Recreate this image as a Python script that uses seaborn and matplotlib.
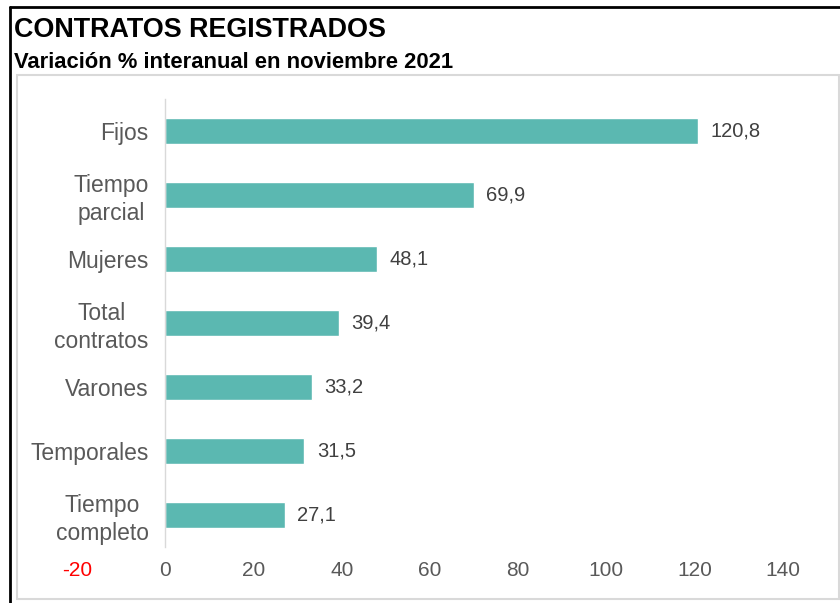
import seaborn as sns
import matplotlib.pyplot as plt
import pandas as pd

categories = ["Fijos", "Tiempo\nparcial", "Mujeres", "Total\ncontratos",
              "Varones", "Temporales", "Tiempo\ncompleto"]
values = [120.8, 69.9, 48.1, 39.4, 33.2, 31.5, 27.1]
x_ticks = [-20, 0, 20, 40, 60, 80, 100, 120, 140]

sns.set_style("white")
plt.rcParams['font.family'] = ['Liberation Sans', 'DejaVu Sans']

df = pd.DataFrame({"categoria": categories, "valor": values})

fig = plt.figure(figsize=(8.4, 6.03), dpi=100)
ax = fig.add_axes([0.0917, 0.093, 0.8403, 0.743])

sns.barplot(
    data=df,
    x="valor",
    y="categoria",
    color="#5BB8B1",
    saturation=1,
    width=0.4,
    ax=ax
)

for s in ["top", "right", "bottom"]:
    ax.spines[s].set_visible(False)
ax.spines["left"].set_position(("data", 0))
ax.spines["left"].set_color("#D9D9D9")
ax.spines["left"].set_linewidth(1)
ax.set_xlabel("")
ax.set_ylabel("")

for i, v in enumerate(values):
    ax.annotate(f"{v:.1f}".replace(".", ","), (v, i), xytext=(9, 0),
                textcoords="offset points", va="center", ha="left",
                fontsize=14.5, color="#404040")

ax.set_xlim(-20, 140)
ax.set_ylim(6.5, -0.5)
ax.set_xticks(x_ticks)
ax.set_xticklabels([str(t) for t in x_ticks])
ax.tick_params(axis="x", length=0, pad=10, labelsize=15)
ax.tick_params(axis="y", length=0, pad=12, labelsize=16.5, labelcolor="#595959")
ax.set_yticks(range(len(categories)))
ax.set_yticklabels(categories)
for lbl, t in zip(ax.get_xticklabels(), x_ticks):
    lbl.set_color("red" if t < 0 else "#595959")
for lbl in ax.get_yticklabels():
    lbl.set_multialignment("center")
    lbl.set_linespacing(1.25)

# marcos
fig.add_artist(plt.Rectangle((17 / 840, 1 - 599 / 603), 822 / 840, 524 / 603,
                             transform=fig.transFigure, fill=False,
                             edgecolor="#D9D9D9", linewidth=1.5))
fig.add_artist(plt.Line2D([10 / 840, 10 / 840], [0, 1 - 7 / 603],
                          transform=fig.transFigure, color="black", linewidth=2))
fig.add_artist(plt.Line2D([10 / 840, 1], [1 - 7 / 603, 1 - 7 / 603],
                          transform=fig.transFigure, color="black", linewidth=2))

fig.text(14 / 840, 1 - 30 / 603, "CONTRATOS REGISTRADOS", fontsize=19.4,
         fontweight="bold", va="center", ha="left", color="black")
fig.text(14 / 840, 1 - 63 / 603, "Variación % interanual en noviembre 2021",
         fontsize=15.8, fontweight="bold", va="center", ha="left", color="black")

plt.savefig("out.png", dpi=100)
